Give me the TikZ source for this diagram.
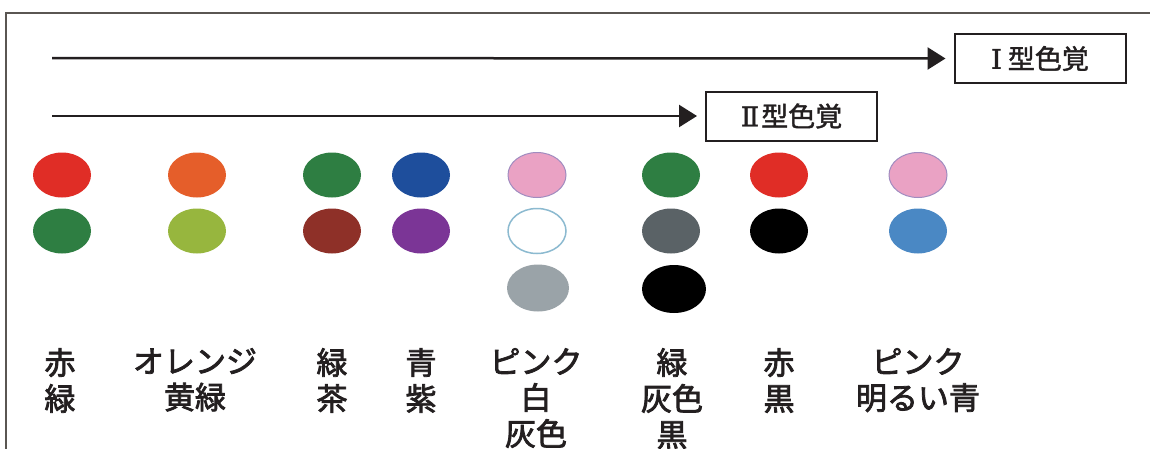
\documentclass[tikz,border=0pt]{standalone}
\usepackage{fontspec}
\newfontfamily\jp[FakeBold=2.5]{Noto Sans CJK JP}
\newfontfamily\jpbox[FakeBold=1.5]{Noto Sans CJK JP}
\newfontfamily\numfont[FakeBold=1.5]{DejaVu Serif}
\usetikzlibrary{shapes.geometric,arrows.meta}
\definecolor{ink}{HTML}{231F20}
\definecolor{framec}{HTML}{5A5652}
\definecolor{cred}{RGB}{224,45,38}
\definecolor{cgreen}{RGB}{46,126,66}
\definecolor{corange}{RGB}{229,94,42}
\definecolor{cyg}{RGB}{151,182,62}
\definecolor{cbrown}{RGB}{142,48,40}
\definecolor{cblue}{RGB}{30,78,156}
\definecolor{cpurple}{RGB}{123,53,150}
\definecolor{cpink}{RGB}{234,162,196}
\definecolor{cpinkb}{RGB}{160,140,192}
\definecolor{cwhiteb}{RGB}{140,186,208}
\definecolor{cgrey}{RGB}{154,163,168}
\definecolor{cdgrey}{RGB}{90,98,102}
\definecolor{clblue}{RGB}{74,136,196}
\tikzset{
  dot/.style={ellipse, inner sep=0pt, minimum width=58pt, minimum height=45pt},
  bigdot/.style={ellipse, inner sep=0pt, minimum width=62pt, minimum height=47pt},
  typebox/.style={draw=ink, line width=2pt, minimum width=171pt, minimum height=49pt, inner sep=0pt,
    font=\jpbox\fontsize{27}{27}\selectfont, text=ink},
  arr/.style={draw=ink, line width=2.5pt, -{Triangle[length=18pt,width=22pt]}, shorten >=8pt},
  lab/.style={anchor=north, inner sep=0pt, align=center, text=ink, font=\jp\fontsize{31}{36}\selectfont},
}
\begin{document}
\begin{tikzpicture}[x=1pt,y=-1pt]
\useasboundingbox (0,0) rectangle (1150,448);
\fill[white] (0,0) rectangle (1150,448);
\draw[framec, line width=1.5pt] (6,449) -- (6,13) -- (1151,13);

\coordinate (s1) at (52,58);
\coordinate (s2) at (52,116);
\node[typebox] (t1) at (1040,58.5) {{\numfont Ⅰ}\hspace{6pt}型色覚};
\node[typebox] (t2) at (791.5,116) {{\numfont Ⅱ}\hspace{2pt}型色覚};
\draw[arr] (s1) -- (t1.west);
\draw[arr] (s2) -- (t2.west);

% column 1
\node[dot, fill=cred] (a1) at (62,175) {};
\node[dot, fill=cgreen] (a2) at (62,231) {};
% column 2
\node[dot, fill=corange] (b1) at (197,175) {};
\node[dot, fill=cyg] (b2) at (197,231) {};
% column 3
\node[dot, fill=cgreen] (c1) at (332,175) {};
\node[dot, fill=cbrown] (c2) at (332,231) {};
% column 4
\node[dot, fill=cblue] (d1) at (421,175) {};
\node[dot, fill=cpurple] (d2) at (421,231) {};
% column 5
\node[dot, fill=cpink, draw=cpinkb, line width=1pt] (e1) at (537,175) {};
\node[dot, fill=white, draw=cwhiteb, line width=1.5pt] (e2) at (537,231) {};
\node[bigdot, fill=cgrey] (e3) at (538,288) {};
% column 6
\node[dot, fill=cgreen] (f1) at (671,175) {};
\node[dot, fill=cdgrey] (f2) at (671,231) {};
\node[bigdot, fill=black, minimum width=64pt, minimum height=48pt] (f3) at (674,289) {};
% column 7
\node[dot, fill=cred] (g1) at (779,175) {};
\node[dot, fill=black] (g2) at (779,231) {};
% column 8
\node[dot, fill=cpink, draw=cpinkb, line width=1pt] (h1) at (918,175) {};
\node[dot, fill=clblue] (h2) at (918,231) {};

% labels
\node[lab] (la) at (60,348) {赤\\緑};
\node[lab] (lb) at (195,348) {オレンジ\\黄緑};
\node[lab] (lc) at (332,348) {緑\\茶};
\node[lab] (ld) at (421,348) {青\\紫};
\node[lab] (le) at (536,348) {ピンク\\白\\灰色};
\node[lab] (lf) at (672,348) {緑\\灰色\\黒};
\node[lab] (lg) at (779,348) {赤\\黒};
\node[lab] (lh) at (918,348) {ピンク\\明るい青};
\end{tikzpicture}
\end{document}
